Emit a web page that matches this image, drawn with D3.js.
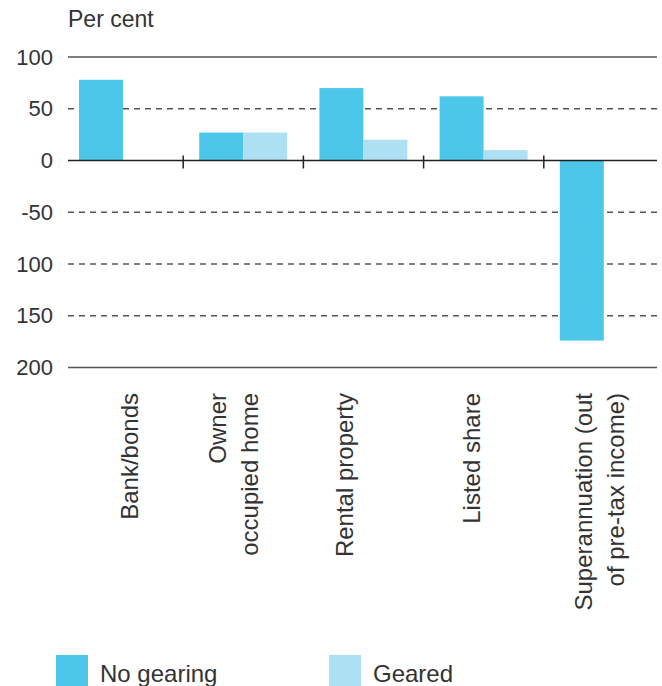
<!DOCTYPE html>
<html>
<head>
<meta charset="utf-8">
<script src="https://cdn.jsdelivr.net/npm/d3@7"></script>
<style>
  body { margin: 0; background: #fff; }
  text { font-family: "Liberation Sans", Arial, sans-serif; fill: #333; }
</style>
</head>
<body>
<div id="chart"></div>
<script>
// data
const categories = ["Bank/bonds", "Owner occupied home", "Rental property", "Listed share", "Superannuation (out of pre-tax income)"];
const categoryLines = [["Bank/bonds"], ["Owner", "occupied home"], ["Rental property"], ["Listed share"], ["Superannuation (out", "of pre-tax income)"]];
const seriesNames = ["No gearing", "Geared"];
const noGearing = [78, 27, 70, 62, -174];
const geared = [null, 27, 20, 10, null];
const yTickValues = [100, 50, 0, -50, -100, -150, -200];
const yTickLabels = ["100", "50", "0", "-50", "100", "150", "200"];

const width = 662, height = 686;
const plotLeft = 68, plotRight = 657;
const colors = ["#4dc7e9", "#aee0f3"];
// where each rotated label's last baseline sits inside its band
const labelDx = [75, 75, 50, 56, 80];

const svg = d3.select("#chart")
  .append("svg")
  .attr("width", width)
  .attr("height", height);

const x = d3.scaleBand()
  .domain(categories)
  .range([63, 664])
  .padding(0);

const xSub = d3.scaleBand()
  .domain(seriesNames)
  .range([16, 104]);

const y = d3.scaleLinear()
  .domain([-200, 100])
  .range([367.5, 57]);

const color = d3.scaleOrdinal().domain(seriesNames).range(colors);

// gridlines
svg.append("g")
  .selectAll("line")
  .data(yTickValues)
  .join("line")
  .attr("x1", plotLeft)
  .attr("x2", plotRight)
  .attr("y1", d => y(d))
  .attr("y2", d => y(d))
  .attr("stroke", d => d === 0 ? "none" : "#555")
  .attr("stroke-width", 1.5)
  .attr("stroke-dasharray", d => (d === 100 || d === -200) ? null : "6,5");

// y labels
const yAxis = svg.append("g")
  .attr("transform", `translate(${plotLeft},0)`)
  .call(d3.axisLeft(y)
    .tickValues(yTickValues)
    .tickFormat((d, i) => yTickLabels[i])
    .tickSize(0)
    .tickPadding(15));
yAxis.select(".domain").remove();
yAxis.selectAll("text")
  .style("font-size", "22px")
  .style("font-family", "Liberation Sans, Arial, sans-serif")
  .attr("fill", "#333");

svg.append("text")
  .attr("x", plotLeft)
  .attr("y", 27)
  .style("font-size", "23px")
  .text("Per cent");

// bars
const rows = categories.map((c, i) => ({cat: c, values: [noGearing[i], geared[i]]}));

svg.append("g")
  .selectAll("g")
  .data(rows)
  .join("g")
  .attr("transform", d => `translate(${x(d.cat)},0)`)
  .selectAll("rect")
  .data(d => seriesNames.map((s, j) => ({key: s, value: d.values[j]})).filter(v => v.value != null))
  .join("rect")
  .attr("x", d => xSub(d.key))
  .attr("width", xSub.bandwidth())
  .attr("y", d => y(Math.max(0, d.value)))
  .attr("height", d => Math.abs(y(d.value) - y(0)))
  .attr("fill", d => color(d.key));

// zero axis with ticks at category boundaries
svg.append("line")
  .attr("x1", plotLeft)
  .attr("x2", plotRight)
  .attr("y1", y(0))
  .attr("y2", y(0))
  .attr("stroke", "#222")
  .attr("stroke-width", 1.5);

svg.append("g")
  .selectAll("line")
  .data(categories.slice(1))
  .join("line")
  .attr("x1", d => x(d))
  .attr("x2", d => x(d))
  .attr("y1", y(0) - 5)
  .attr("y2", y(0) + 8)
  .attr("stroke", "#222")
  .attr("stroke-width", 1.5);

// category labels, rotated
const labels = svg.append("g")
  .selectAll("text")
  .data(categories)
  .join("text")
  .attr("transform", (d, i) => `translate(${x(d) + labelDx[i]},393) rotate(-90)`)
  .attr("text-anchor", "end")
  .style("font-size", "24px");

labels.selectAll("tspan")
  .data((d, i) => categoryLines[i].map((t, k, arr) => ({t, off: (k - (arr.length - 1)) * 32})))
  .join("tspan")
  .attr("x", 0)
  .attr("y", d => d.off)
  .text(d => d.t);

// legend
const legendX = [56, 329];
const legend = svg.append("g")
  .selectAll("g")
  .data(seriesNames)
  .join("g")
  .attr("transform", (d, i) => `translate(${legendX[i]},655)`);

legend.append("rect")
  .attr("width", 32)
  .attr("height", 32)
  .attr("fill", d => color(d));

legend.append("text")
  .attr("x", 44)
  .attr("y", 27)
  .style("font-size", "24px")
  .text(d => d);
</script>
</body>
</html>
